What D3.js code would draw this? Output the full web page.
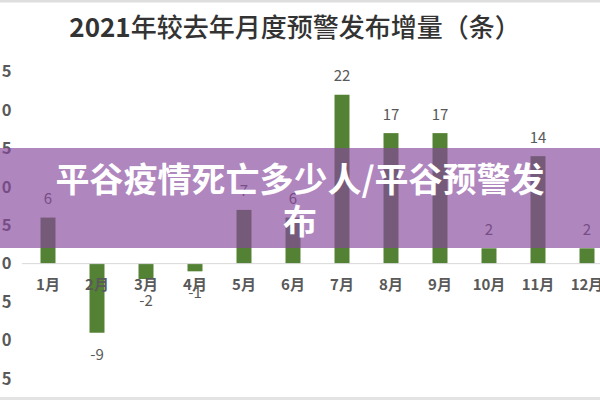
<!DOCTYPE html>
<html>
<head>
<meta charset="utf-8">
<script src="https://cdn.jsdelivr.net/npm/d3@7"></script>
<style>
  body { margin: 0; background: #fff; }
  svg { display: block; font-family: "Noto Sans CJK SC", "Noto Sans", sans-serif; }
</style>
</head>
<body>
<div id="chart"></div>
<script>
const months = ['1月', '2月', '3月', '4月', '5月', '6月', '7月', '8月', '9月', '10月', '11月', '12月'];
const increase = [6, -9, -2, -1, 7, 6, 22, 17, 17, 2, 14, 2];
const yTicks = [-15, -10, -5, 0, 5, 10, 15, 20, 25];
const titleYear = '2021';
const titleRest = '年较去年月度预警发布增量（条）';
const bannerLines = ['平谷疫情死亡多少人/平谷预警发', '布'];

const width = 600;
const height = 400;

const svg = d3.select('#chart').append('svg')
  .attr('width', width)
  .attr('height', height);

svg.append('rect').attr('x', 0).attr('y', 0).attr('width', width).attr('height', height).attr('fill', '#fff');
// thin grey frame strips at top and bottom
svg.append('rect').attr('x', 0).attr('y', 0).attr('width', width).attr('height', 2.5).attr('fill', '#dedede');
svg.append('rect').attr('x', 0).attr('y', 397).attr('width', width).attr('height', 3).attr('fill', '#e3e3e3');

const x = d3.scaleBand()
  .domain(months)
  .range([23.5, 611.5])
  .paddingInner(0.694)
  .paddingOuter(0.347);

const y = d3.scaleLinear()
  .domain([-15, 25])
  .range([378.8, 71.7]);

const t = svg.append('text')
  .attr('x', 295)
  .attr('y', 37)
  .attr('text-anchor', 'middle')
  .attr('fill', '#333')
  .attr('font-size', 26);
t.append('tspan').attr('font-weight', 'bold').text(titleYear);
t.append('tspan').attr('font-weight', 500).text(titleRest);

// y axis labels only (no line), mostly cut by the left edge
const yAxis = d3.axisLeft(y).tickValues(yTicks).tickSize(0).tickPadding(0);
const gy = svg.append('g').attr('transform', 'translate(11.5,0)').call(yAxis);
gy.select('.domain').remove();
gy.selectAll('text')
  .attr('fill', '#595959')
  .attr('font-size', 16.5)
  .attr('font-weight', 'bold')
  .attr('letter-spacing', 3)
  .attr('dx', 3)
  .attr('font-family', '"Noto Sans CJK SC", sans-serif');

svg.selectAll('rect.bar')
  .data(increase)
  .join('rect')
  .attr('class', 'bar')
  .attr('x', (d, i) => x(months[i]))
  .attr('width', x.bandwidth())
  .attr('y', d => y(Math.max(0, d)))
  .attr('height', d => Math.abs(y(d) - y(0)))
  .attr('fill', '#548235');

// baseline
svg.append('line')
  .attr('x1', 22).attr('x2', width)
  .attr('y1', y(0)).attr('y2', y(0))
  .attr('stroke', '#d9d9d9')
  .attr('stroke-width', 1);

const xAxis = d3.axisBottom(x).tickSize(0).tickPadding(0);
const gx = svg.append('g').attr('transform', `translate(0,${y(0)})`).call(xAxis);
gx.select('.domain').remove();
gx.selectAll('text')
  .attr('dy', null)
  .attr('y', 26)
  .attr('fill', '#595959')
  .attr('font-size', 15)
  .attr('font-weight', 'bold')
  .attr('font-family', '"Noto Sans CJK SC", sans-serif');

svg.selectAll('text.val')
  .data(increase)
  .join('text')
  .attr('class', 'val')
  .attr('x', (d, i) => x(months[i]) + x.bandwidth() / 2)
  .attr('y', d => d >= 0 ? y(d) - 13.5 : y(d) + 27)
  .attr('text-anchor', 'middle')
  .attr('fill', '#595959')
  .attr('font-size', 15)
  .text(d => d);

// purple banner overlay
svg.append('rect')
  .attr('x', 0).attr('y', 148)
  .attr('width', width).attr('height', 100)
  .attr('fill', 'rgb(135,72,157)')
  .attr('fill-opacity', 0.66);

svg.selectAll('text.banner')
  .data(bannerLines)
  .join('text')
  .attr('class', 'banner')
  .attr('x', 300)
  .attr('y', (d, i) => 192 + i * 42)
  .attr('text-anchor', 'middle')
  .attr('fill', '#fff')
  .attr('font-size', 34)
  .attr('font-weight', 'bold')
  .text(d => d);
</script>
</body>
</html>
